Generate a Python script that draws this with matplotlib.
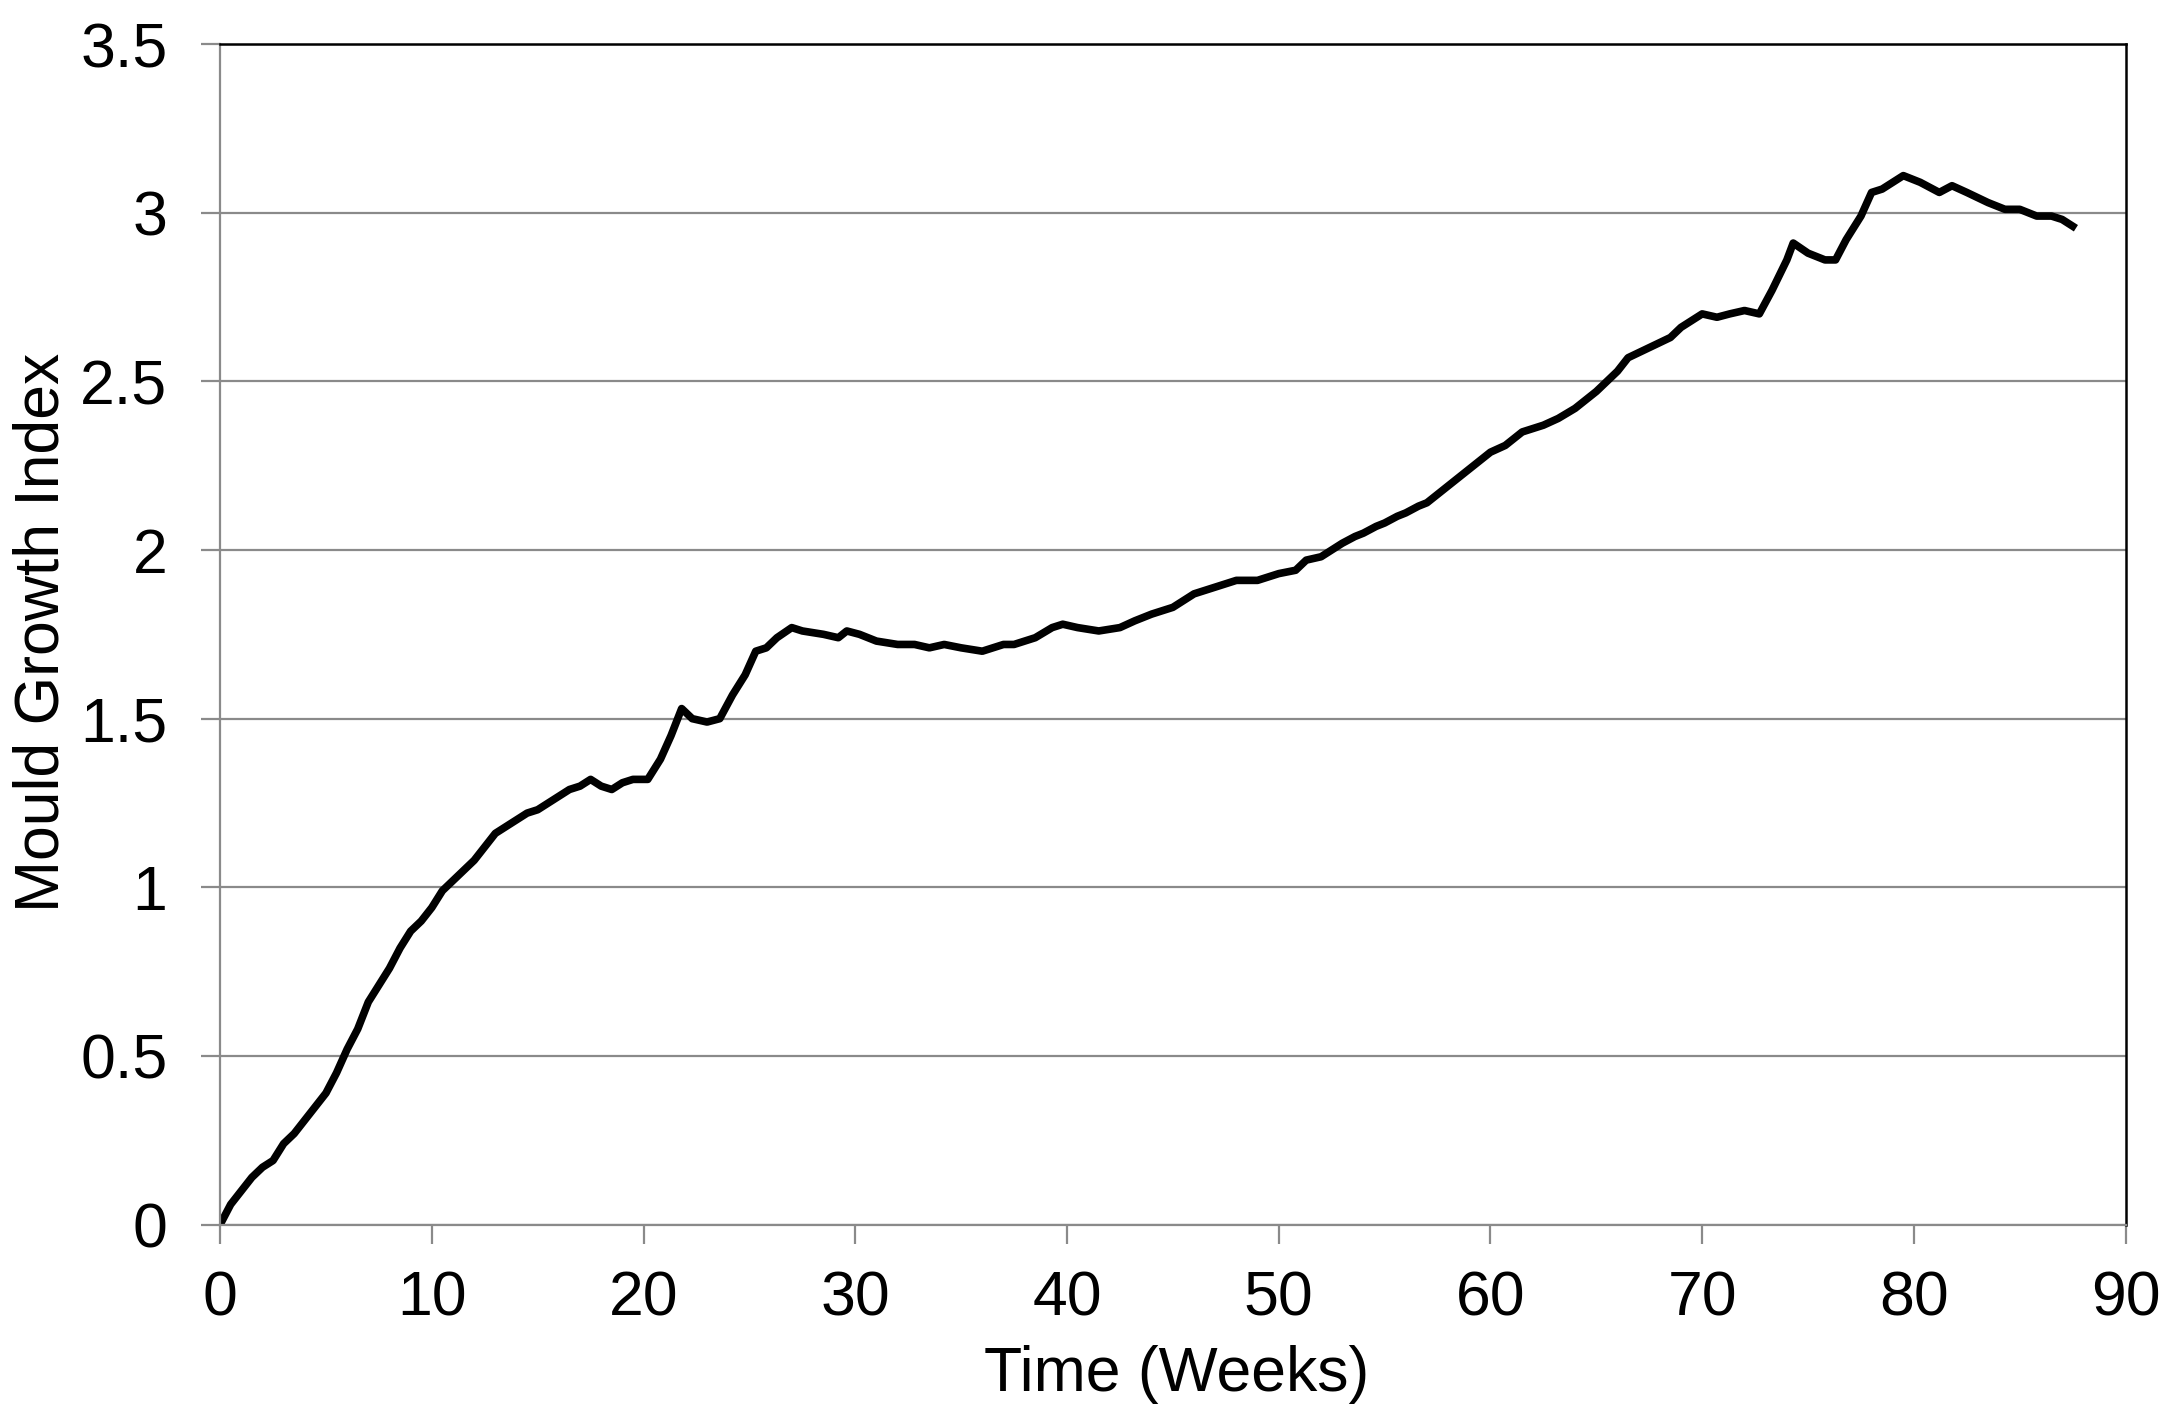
import matplotlib.pyplot as plt

plt.rcParams["font.family"] = ["Liberation Sans", "DejaVu Sans"]

# ---------------------------
# Data
# ---------------------------
weeks = [0, 0.5, 1, 1.5, 2, 2.5, 3, 3.5, 4, 4.5, 5, 5.5, 6, 6.5, 7, 7.5, 8, 8.5, 9, 9.5,
         10, 10.5, 11, 11.5, 12, 12.5, 13, 13.5, 14, 14.5, 15, 15.5, 16, 16.5, 17, 17.5,
         18, 18.5, 19, 19.5, 20.2, 20.8, 21.3, 21.8, 22.3, 23, 23.6, 24.2, 24.8, 25.3,
         25.8, 26.3, 27, 27.5, 28.5, 29.2, 29.6, 30.2, 31, 32, 32.8, 33.5, 34.2, 35, 36,
         37, 37.5, 38.5, 39.3, 39.8, 40.5, 41.5, 42.5, 43.2, 44, 45, 46, 47, 48, 49, 50,
         50.8, 51.3, 52, 53, 53.6, 54, 54.6, 55, 55.6, 56, 56.6, 57, 58, 59, 60, 60.7,
         61.5, 62.5, 63.2, 64, 65, 66, 66.5, 67.5, 68.5, 69, 70, 70.7, 71.3, 72, 72.7,
         73.3, 74, 74.3, 75, 75.8, 76.3, 76.8, 77.5, 78, 78.5, 79, 79.5, 80.3, 81.2,
         81.8, 82.5, 83.5, 84.3, 85, 85.8, 86.5, 87, 87.5]
mould_index = [0, 0.06, 0.10, 0.14, 0.17, 0.19, 0.24, 0.27, 0.31, 0.35, 0.39, 0.45, 0.52,
               0.58, 0.66, 0.71, 0.76, 0.82, 0.87, 0.90, 0.94, 0.99, 1.02, 1.05, 1.08,
               1.12, 1.16, 1.18, 1.20, 1.22, 1.23, 1.25, 1.27, 1.29, 1.30, 1.32, 1.30,
               1.29, 1.31, 1.32, 1.32, 1.38, 1.45, 1.53, 1.50, 1.49, 1.50, 1.57, 1.63,
               1.70, 1.71, 1.74, 1.77, 1.76, 1.75, 1.74, 1.76, 1.75, 1.73, 1.72, 1.72,
               1.71, 1.72, 1.71, 1.70, 1.72, 1.72, 1.74, 1.77, 1.78, 1.77, 1.76, 1.77,
               1.79, 1.81, 1.83, 1.87, 1.89, 1.91, 1.91, 1.93, 1.94, 1.97, 1.98, 2.02,
               2.04, 2.05, 2.07, 2.08, 2.10, 2.11, 2.13, 2.14, 2.19, 2.24, 2.29, 2.31,
               2.35, 2.37, 2.39, 2.42, 2.47, 2.53, 2.57, 2.60, 2.63, 2.66, 2.70, 2.69,
               2.70, 2.71, 2.70, 2.77, 2.86, 2.91, 2.88, 2.86, 2.86, 2.92, 2.99, 3.06,
               3.07, 3.09, 3.11, 3.09, 3.06, 3.08, 3.06, 3.03, 3.01, 3.01, 2.99, 2.99,
               2.98, 2.96]

x_ticks = [0, 10, 20, 30, 40, 50, 60, 70, 80, 90]
y_ticks = [0, 0.5, 1, 1.5, 2, 2.5, 3, 3.5]
y_tick_labels = ["0", "0.5", "1", "1.5", "2", "2.5", "3", "3.5"]

# ---------------------------
# Plot
# ---------------------------
GRAY = "#8a8a8a"

fig = plt.figure(figsize=(21.77, 14.25), dpi=100)
ax = fig.add_axes([0.1011, 0.1406, 0.8753, 0.8285])

ax.plot(weeks, mould_index, color="black", linewidth=5.5, solid_joinstyle="round")

ax.set_xlim(0, 90)
ax.set_ylim(0, 3.5)
ax.set_xticks(x_ticks)
ax.set_yticks(y_ticks)
ax.set_yticklabels(y_tick_labels)

ax.yaxis.grid(True, color=GRAY, linewidth=1.6)
ax.set_axisbelow(True)

ax.spines["left"].set_color(GRAY)
ax.spines["bottom"].set_color(GRAY)
ax.spines["left"].set_linewidth(1.6)
ax.spines["bottom"].set_linewidth(1.6)
ax.spines["top"].set_linewidth(1.8)
ax.spines["right"].set_linewidth(1.8)

ax.tick_params(axis="both", direction="out", length=14, width=1.6, color=GRAY,
               labelsize=45, labelcolor="black")
ax.tick_params(axis="x", pad=18)
ax.tick_params(axis="y", pad=24)

ax.set_xlabel("Time (Weeks)", fontsize=45)
ax.set_ylabel("Mould Growth Index", fontsize=45)
ax.xaxis.set_label_coords(0.502, -0.102)
ax.yaxis.set_label_coords(-0.078, 0.502)

fig.savefig("out.png", dpi=100, facecolor="white")
